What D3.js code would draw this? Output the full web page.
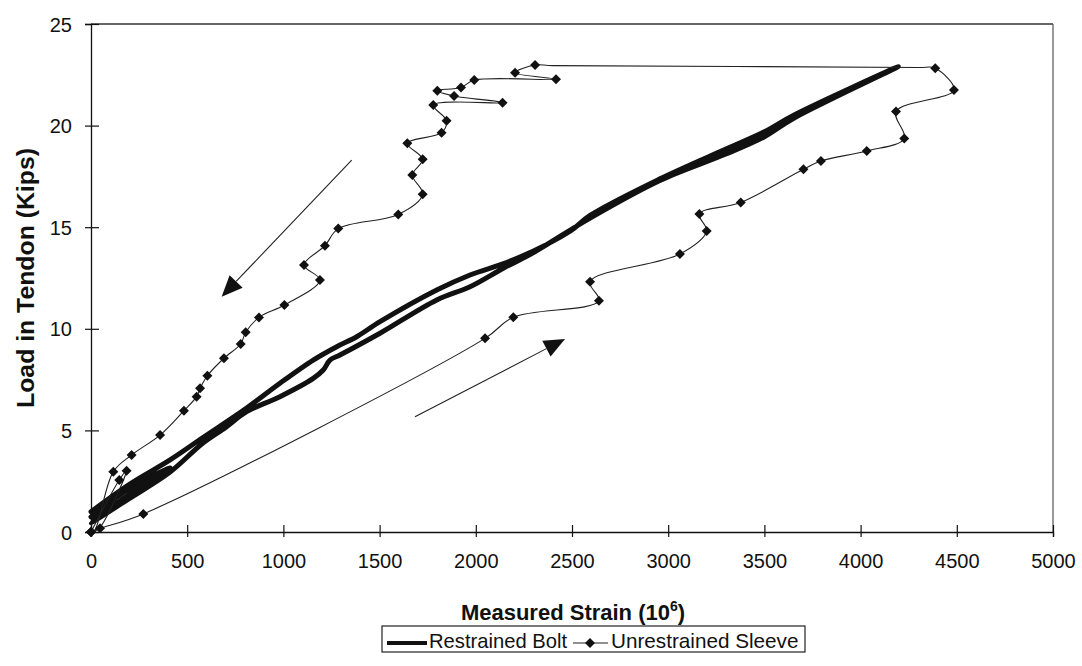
<!DOCTYPE html>
<html>
<head>
<meta charset="utf-8">
<script src="https://cdn.jsdelivr.net/npm/d3@7"></script>
<style>
  html, body { margin: 0; padding: 0; background: #fff; }
  svg { display: block; font-family: Arial, "Liberation Sans", Helvetica, sans-serif; }
</style>
</head>
<body>
<svg id="chart" width="1082" height="666"></svg>
<script>
// ---- Data (strain in 10^-6, load in kips) ----
const xTicks = [0, 500, 1000, 1500, 2000, 2500, 3000, 3500, 4000, 4500, 5000];
const yTicks = [0, 5, 10, 15, 20, 25];

const boltStrain = [0, 200, 411, 200, 0, 200, 411, 582, 700, 809, 982, 1155, 1207, 1242, 1294, 1502, 1797, 1970, 2143, 2300, 2594, 2957, 3300, 3500, 3650, 4196,
  3650, 3500, 3300, 2957, 2594, 2490, 2195, 1970, 1797, 1502, 1381, 1277, 1155, 982, 809, 582, 411, 200, 0];
const boltLoad = [0.74, 2.15, 3.15, 1.85, 0.46, 1.65, 2.95, 4.38, 5.15, 5.92, 6.66, 7.56, 7.97, 8.46, 8.71, 9.78, 11.42, 12.07, 12.98, 13.75, 15.45, 17.3, 18.6, 19.45, 20.35, 22.9,
  20.5, 19.7, 18.85, 17.38, 15.58, 14.8, 13.39, 12.65, 11.91, 10.35, 9.61, 9.12, 8.46, 7.32, 6.1, 4.65, 3.55, 2.35, 1.0];

const sleeveStrain = [0, 147, 185, 40, 0, 47, 272, 2048, 2195, 2640, 2594, 3061, 3200, 3162, 3377, 3703, 3794, 4032, 4227, 4184, 4485, 4388, 4300,
  2400, 2308, 2204, 2417, 1992, 1923, 1800, 1887, 2139, 1779, 1848, 1822, 1644, 1724, 1670, 1724, 1597, 1285, 1216, 1107, 1190, 1005, 873, 804, 778, 691, 605, 567, 549, 483, 359, 211, 116, 20, 0];
const sleeveLoad = [0, 2.56, 3.02, 0.15, 0, 0.18, 0.89, 9.53, 10.57, 11.38, 12.32, 13.68, 14.81, 15.65, 16.22, 17.85, 18.26, 18.75, 19.37, 20.69, 21.75, 22.82, 22.86,
  22.95, 22.98, 22.6, 22.28, 22.24, 21.88, 21.72, 21.46, 21.13, 21.01, 20.24, 19.65, 19.13, 18.34, 17.57, 16.62, 15.63, 14.93, 14.09, 13.14, 12.40, 11.17, 10.56, 9.83, 9.25, 8.55, 7.69, 7.07, 6.66, 5.97, 4.77, 3.79, 2.97, 0.1, 0];
// points without a diamond marker (pass-through points)
const sleeveUnmarked = [3, 22, 23, 56];

// Direction arrows: [startStrain, startLoad, tipStrain, tipLoad]
const arrows = [
  [1355, 18.3, 679, 11.58],
  [1684, 5.67, 2464, 9.5]
];

const seriesNames = ["Restrained Bolt", "Unrestrained Sleeve"];

// ---- Layout ----
const svg = d3.select("#chart");
const L = 91, R = 1053, T = 24, B = 532;
const x = d3.scaleLinear().domain([0, 5000]).range([L, R]);
const y = d3.scaleLinear().domain([0, 25]).range([B, T]);

// frame (top & right)
svg.append("line").attr("x1", L).attr("x2", R).attr("y1", T).attr("y2", T).attr("stroke", "#333").attr("stroke-width", 1.3);
svg.append("line").attr("x1", R).attr("x2", R).attr("y1", T).attr("y2", B).attr("stroke", "#555").attr("stroke-width", 1.2);

// axes
const xAxis = svg.append("g").attr("transform", `translate(0,${B})`)
  .call(d3.axisBottom(x).tickValues(xTicks).tickFormat(d3.format("d")).tickSize(5).tickPadding(0));
xAxis.select(".domain").attr("stroke", "#111").attr("stroke-width", 1.3);
xAxis.selectAll(".tick line").attr("y1", -7).attr("y2", 5).attr("stroke", "#111").attr("stroke-width", 1.2);
xAxis.selectAll(".tick text").attr("y", 36).attr("dy", 0).attr("font-size", 20).attr("fill", "#111")
  .attr("font-family", "Arial, 'Liberation Sans', sans-serif");

const yAxis = svg.append("g").attr("transform", `translate(${L},0)`)
  .call(d3.axisLeft(y).tickValues(yTicks).tickSize(6).tickPadding(0));
yAxis.select(".domain").attr("stroke", "#111").attr("stroke-width", 1.3);
yAxis.selectAll(".tick line").attr("x1", 8).attr("x2", -6).attr("stroke", "#111").attr("stroke-width", 1.2);
yAxis.selectAll(".tick text").attr("x", -19).attr("dy", "0.35em").attr("font-size", 20).attr("fill", "#111")
  .attr("font-family", "Arial, 'Liberation Sans', sans-serif");

// axis titles
svg.append("text").attr("x", 573).attr("y", 620).attr("text-anchor", "middle")
  .attr("font-size", 22).attr("font-weight", "bold").attr("fill", "#111")
  .html('Measured Strain (10<tspan font-size="14" dy="-9">6</tspan><tspan dy="9">)</tspan>');
svg.append("text").attr("transform", "translate(34,278) rotate(-90)").attr("text-anchor", "middle")
  .attr("font-size", 24.8).attr("font-weight", "bold").attr("fill", "#111")
  .text("Load in Tendon (Kips)");

// clip to plot
svg.append("clipPath").attr("id", "plotclip").append("rect")
  .attr("x", L - 6).attr("y", T - 6).attr("width", R - L + 12).attr("height", B - T + 12);
const plot = svg.append("g").attr("clip-path", "url(#plotclip)");

const line = d3.line().x(d => x(d[0])).y(d => y(d[1])).curve(d3.curveCatmullRom.alpha(0.5));

const boltPts = boltStrain.map((s, i) => [s, boltLoad[i]]);
const sleevePts = sleeveStrain.map((s, i) => [s, sleeveLoad[i]]);

plot.append("path").datum(boltPts).attr("d", line)
  .attr("fill", "none").attr("stroke", "#111").attr("stroke-width", 5)
  .attr("stroke-linejoin", "round").attr("stroke-linecap", "round");

plot.append("path").datum(sleevePts).attr("d", line)
  .attr("fill", "none").attr("stroke", "#222").attr("stroke-width", 1.1);

const diamond = d3.symbol().type(d3.symbolSquare).size(50);
plot.selectAll(".mk").data(sleevePts.filter((d, i) => !sleeveUnmarked.includes(i))).join("path")
  .attr("class", "mk")
  .attr("d", diamond)
  .attr("transform", d => `translate(${x(d[0])},${y(d[1])}) rotate(45)`)
  .attr("fill", "#111");

// arrows
arrows.forEach(a => {
  const x0 = x(a[0]), y0 = y(a[1]), x1 = x(a[2]), y1 = y(a[3]);
  const dx = x1 - x0, dy = y1 - y0, len = Math.hypot(dx, dy);
  const ux = dx / len, uy = dy / len;
  const hl = 21, hw = 9;
  const bx = x1 - ux * hl, by = y1 - uy * hl;
  svg.append("line").attr("x1", x0).attr("y1", y0).attr("x2", bx).attr("y2", by)
    .attr("stroke", "#222").attr("stroke-width", 1.1);
  svg.append("path")
    .attr("d", `M${x1},${y1}L${bx - uy * hw},${by + ux * hw}L${bx + uy * hw},${by - ux * hw}Z`)
    .attr("fill", "#111");
});

// legend
const lg = svg.append("g");
lg.append("rect").attr("x", 382).attr("y", 626).attr("width", 423).attr("height", 26)
  .attr("fill", "#fff").attr("stroke", "#222").attr("stroke-width", 1.2);
lg.append("line").attr("x1", 387).attr("x2", 427).attr("y1", 643).attr("y2", 643)
  .attr("stroke", "#111").attr("stroke-width", 4);
lg.append("text").attr("x", 429).attr("y", 648).attr("font-size", 20.2).attr("fill", "#111").text(seriesNames[0]);
lg.append("line").attr("x1", 573).attr("x2", 608).attr("y1", 643).attr("y2", 643)
  .attr("stroke", "#222").attr("stroke-width", 1.1);
lg.append("path").attr("d", diamond).attr("transform", "translate(590,643) rotate(45)").attr("fill", "#111");
lg.append("text").attr("x", 611).attr("y", 648).attr("font-size", 20.7).attr("fill", "#111").text(seriesNames[1]);
</script>
</body>
</html>
